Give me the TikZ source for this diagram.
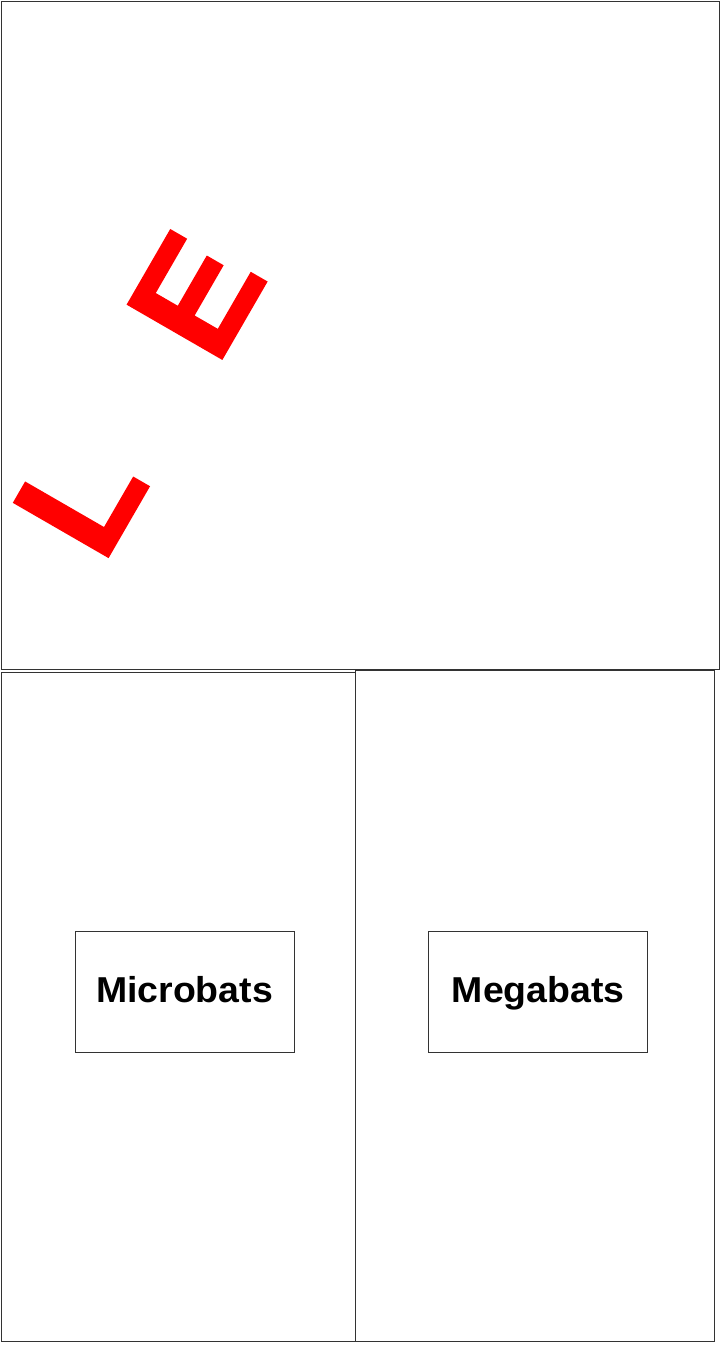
\documentclass[tikz,border=0pt]{standalone}
\usepackage{fontspec}
\setmainfont{Liberation Sans}
\newfontfamily\letterfont[FakeBold=1.2]{Liberation Sans Bold}
\usetikzlibrary{positioning}
\tikzset{
panel/.style={
  draw=black!80,
  line width=0.8pt,
  }
}
\tikzset{
batbox/.style={
  rectangle,
  draw=black!80,
  line width=0.8pt,
  inner sep=0pt,
  minimum width=219pt,
  minimum height=121pt,
  text height=26pt,
  text depth=4pt,
  font=\bfseries\fontsize{36}{40}\selectfont,
  }
}
\tikzset{
redletter/.style={
  text=red,
  rotate=60,
  inner sep=0pt,
  font=\letterfont\fontsize{158}{160}\selectfont,
  }
}

\begin{document}
\begin{tikzpicture}[x=1pt,y=-1pt]
    \useasboundingbox (0,0) rectangle (720,1346);

    % panels
    \draw[panel] (1,1) rectangle (719,669);
    \draw[panel] (1,672) rectangle (355,1341);
    \draw[panel] (355,670) rectangle (714,1341);

    % letters
    \node[redletter] (letE) at (196,295) {E};
    \node[redletter] (letL) at (80,497) {L};

    % bat groups
    \node[batbox] (micro) at (184.5,991.5) {\scalebox{1.04}[1]{Microbats}};
    \node[batbox, right=134pt of micro] (mega) {\scalebox{1.04}[1]{Megabats}};
\end{tikzpicture}
\end{document}
